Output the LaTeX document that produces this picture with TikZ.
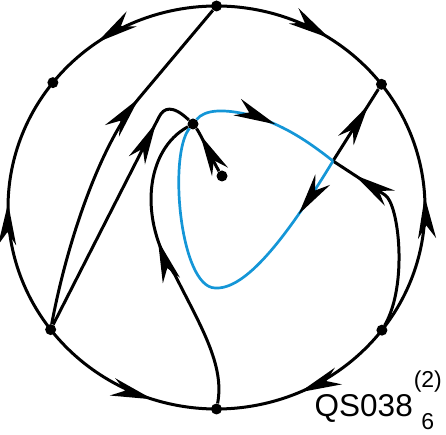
\documentclass[tikz,border=0pt]{standalone}
\usepackage{fontspec}
\setmainfont{Liberation Sans}
\usetikzlibrary{arrows.meta, decorations.markings}
\definecolor{loopblue}{RGB}{20,150,215}
\tikzstyle{dot} = [circle, fill=black, inner sep=0pt, minimum size=11pt]
\tikzstyle{orbit} = [line width=3pt, draw=black]
\tikzstyle{loopline} = [line width=2.7pt, draw=loopblue]
\tikzset{ring/.style={x radius=208.5, y radius=201.5},
  flow/.style={postaction={decorate, decoration={markings,
    mark=at position #1 with {\arrow{Stealth[length=42pt, width=18pt, inset=13pt, color=black]}}}}}}

\begin{document}
\begin{tikzpicture}[x=1pt, y=1pt]
\useasboundingbox (0,0) rectangle (446,435);

\coordinate (c) at (216.5,227.5);
% points on the circle
\path (c) +(90:208.5 and 201.5) node[dot] (top) {};
\path (c) +(141.7:208.5 and 201.5) node[dot] (ul) {};
\path (c) +(37.7:208.5 and 201.5) node[dot] (ur) {};
\path (c) +(217.3:208.5 and 201.5) node[dot] (ll) {};
\path (c) +(322.5:208.5 and 201.5) node[dot] (lr) {};
\path (c) +(270:208.5 and 201.5) node[dot] (bot) {};
% inner points
\node[dot] (p) at (193,311) {};
\node[dot] (f) at (222,259) {};
\coordinate (x) at (333,274);

% boundary arcs
\draw[orbit, flow=0.68] (top.center) arc[ring, start angle=90, end angle=141.7];
\draw[orbit, flow=0.63] (top.center) arc[ring, start angle=90, end angle=37.7];
\draw[orbit, flow=0.51] (ll.center) arc[ring, start angle=217.3, end angle=141.7];
\draw[orbit, flow=0.54] (lr.center) arc[ring, start angle=-37.5, end angle=37.7];
\draw[orbit, flow=0.66] (ll.center) arc[ring, start angle=217.3, end angle=270];
\draw[orbit, flow=0.55] (lr.center) arc[ring, start angle=322.5, end angle=270];

% separatrices
\draw[orbit, flow=0.68] (ll) .. controls (67.6,195.6) and (101,292) .. (140,338) -- (top);
\draw[orbit, flow=0.84] (ll) -- (159,318) .. controls (163.5,327) and (172,331) .. (p);
\draw[orbit, flow=0.85] (f) .. controls (214,272) and (200,302) .. (p);
\draw[orbit, flow=0.58] (bot) .. controls (225,70) and (200,110) .. (175,160)
  .. controls (138,215) and (145,285) .. (p);
\draw[orbit, flow=0.78] (x) -- (ur);
\draw[orbit, flow=0.87] (lr) .. controls (408,150) and (399,231) .. (385,240) -- (x);

% blue loop
\draw[loopline, flow=0.55] (p) .. controls (205,326) and (225,326) .. (250,320)
  .. controls (285,310) and (310,292) .. (x);
\draw[loopline, flow=0.18] (x) .. controls (285,195) and (245,145) .. (215,147)
  .. controls (180,148) and (168,280) .. (p);

\node[anchor=base west, inner sep=0pt, font=\fontsize{31.5}{32}\selectfont] (name) at (314.5,18.5)
  {QS038\kern1pt\rlap{\raisebox{28.5pt}{\fontsize{23}{23}\selectfont(2)}}\kern7.5pt\raisebox{-13pt}{\fontsize{23}{23}\selectfont6}};
\end{tikzpicture}
\end{document}
